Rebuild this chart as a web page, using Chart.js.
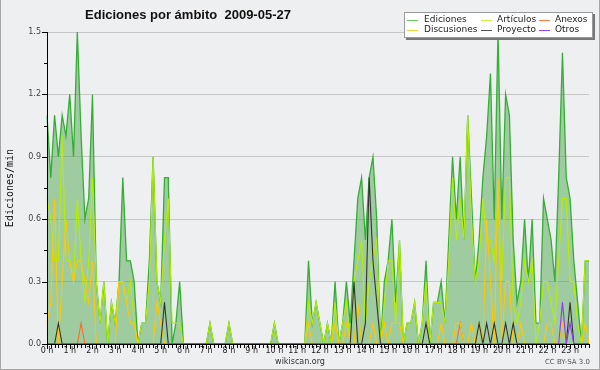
<!DOCTYPE html>
<html lang="es">
<head>
<meta charset="UTF-8">
<title>Ediciones por ámbito 2009-05-27</title>
<script src="https://cdn.jsdelivr.net/npm/chart.js@4"></script>
<style>
  html, body { margin: 0; padding: 0; background: #fff; }
  canvas { display: block; }
</style>
</head>
<body>
<canvas id="grafico" width="600" height="370"></canvas>
<script>
// una muestra cada 10 minutos, 144 por día (ediciones por minuto)
const horas = ['0 h', '1 h', '2 h', '3 h', '4 h', '5 h', '6 h', '7 h', '8 h', '9 h', '10 h', '11 h',
               '12 h', '13 h', '14 h', '15 h', '16 h', '17 h', '18 h', '19 h', '20 h', '21 h', '22 h', '23 h'];

const ediciones = [
  1.1, 0.8, 1.1, 0.9, 1.1, 1.0,
  1.2, 0.9, 1.5, 1.0, 0.6, 0.7,
  1.2, 0.3, 0.1, 0.3, 0.0, 0.2,
  0.1, 0.3, 0.8, 0.4, 0.4, 0.3,
  0.0, 0.1, 0.1, 0.4, 0.9, 0.3,
  0.2, 0.8, 0.8, 0.0, 0.1, 0.3,
  0, 0, 0, 0, 0, 0,
  0, 0.1, 0, 0, 0, 0,
  0.1, 0, 0, 0, 0, 0,
  0, 0, 0, 0, 0, 0,
  0.1, 0, 0, 0, 0, 0,
  0, 0, 0, 0.4, 0.1, 0.2,
  0.1, 0.0, 0.1, 0.0, 0.3, 0.0,
  0.1, 0.3, 0.1, 0.4, 0.7, 0.8,
  0.5, 0.8, 0.9, 0.6, 0.0, 0.3,
  0.4, 0.6, 0.2, 0.5, 0.0, 0.1,
  0.1, 0.2, 0.0, 0.1, 0.4, 0.0,
  0.2, 0.2, 0.3, 0.1, 0.5, 0.9,
  0.6, 0.9, 0.5, 1.1, 0.7, 0.3,
  0.5, 0.8, 1.0, 1.3, 0.6, 1.5,
  0.6, 1.2, 1.1, 0.5, 0.2, 0.3,
  0.6, 0.3, 0.6, 0.1, 0.1, 0.7,
  0.6, 0.5, 0.3, 0.8, 1.4, 0.8,
  0.7, 0.4, 0.2, 0.0, 0.4, 0.4
];

const articulos = [
  0.7, 0.6, 0.4, 0.4, 1.0, 0.4,
  0.4, 0.3, 0.7, 0.4, 0.2, 0.4,
  0.8, 0.3, 0.1, 0.3, 0.0, 0.2,
  0.1, 0.3, 0.3, 0.2, 0.3, 0.1,
  0.0, 0.1, 0.1, 0.3, 0.9, 0.3,
  0.2, 0.5, 0.7, 0.1, 0.1, 0.1,
  0, 0, 0, 0, 0, 0,
  0, 0.1, 0, 0, 0, 0,
  0.1, 0, 0, 0, 0, 0,
  0, 0, 0, 0, 0, 0,
  0.1, 0, 0, 0, 0, 0,
  0, 0, 0, 0.2, 0.1, 0.2,
  0.1, 0.0, 0.1, 0.0, 0.2, 0.0,
  0.1, 0.2, 0.0, 0.3, 0.4, 0.5,
  0.1, 0.3, 0.4, 0.5, 0.0, 0.2,
  0.4, 0.4, 0.1, 0.5, 0.0, 0.1,
  0.1, 0.2, 0.0, 0.1, 0.3, 0.0,
  0.2, 0.2, 0.2, 0.1, 0.4, 0.8,
  0.5, 0.7, 0.5, 1.1, 0.6, 0.3,
  0.4, 0.7, 0.5, 0.5, 0.4, 0.7,
  0.3, 0.8, 0.8, 0.2, 0.1, 0.2,
  0.4, 0.3, 0.4, 0.0, 0.1, 0.3,
  0.3, 0.2, 0.1, 0.4, 0.7, 0.7,
  0.3, 0.3, 0.1, 0.0, 0.4, 0.4
];

const anexos = [
  0, 0, 0, 0, 0, 0,
  0, 0, 0, 0.1, 0, 0,
  0, 0, 0, 0, 0, 0,
  0, 0, 0, 0, 0, 0,
  0, 0, 0, 0, 0, 0,
  0, 0, 0, 0, 0, 0,
  0, 0, 0, 0, 0, 0,
  0, 0, 0, 0, 0, 0,
  0, 0, 0, 0, 0, 0,
  0, 0, 0, 0, 0, 0,
  0, 0, 0, 0, 0, 0,
  0, 0, 0, 0, 0, 0,
  0, 0, 0, 0, 0, 0,
  0, 0, 0, 0, 0, 0,
  0, 0, 0, 0, 0, 0,
  0, 0, 0, 0, 0, 0,
  0, 0, 0, 0, 0, 0,
  0, 0, 0, 0, 0, 0,
  0, 0.1, 0, 0, 0, 0,
  0, 0, 0, 0, 0, 0,
  0, 0, 0, 0, 0, 0,
  0, 0, 0, 0, 0, 0,
  0, 0, 0, 0, 0, 0,
  0, 0, 0, 0, 0, 0
];

const discusiones = [
  0.1, 0.2, 0.7, 0.0, 0.3, 0.6,
  0.4, 0.3, 0.4, 0.4, 0.3, 0.2,
  0.4, 0, 0, 0, 0, 0,
  0, 0.3, 0.3, 0.2, 0.1, 0.1,
  0, 0, 0, 0, 0, 0.2,
  0.1, 0, 0, 0, 0, 0,
  0, 0, 0, 0, 0, 0,
  0, 0, 0, 0, 0, 0,
  0, 0, 0, 0, 0, 0,
  0, 0, 0, 0, 0, 0,
  0, 0, 0, 0, 0, 0,
  0, 0, 0, 0.1, 0, 0,
  0, 0, 0, 0, 0.1, 0,
  0, 0.1, 0, 0, 0.2, 0,
  0, 0, 0.1, 0, 0, 0.1,
  0, 0.1, 0.1, 0.1, 0, 0,
  0, 0, 0, 0, 0, 0,
  0, 0, 0.1, 0, 0, 0,
  0.1, 0.1, 0, 0, 0.1, 0,
  0.1, 0, 0.6, 0.3, 0, 0.8,
  0, 0.3, 0.3, 0, 0, 0.1,
  0, 0, 0, 0, 0, 0,
  0.1, 0.1, 0, 0, 0.1, 0,
  0, 0, 0, 0, 0.1, 0
];

const proyecto = [
  0, 0, 0, 0.1, 0, 0,
  0, 0, 0, 0, 0, 0,
  0, 0, 0, 0, 0, 0,
  0, 0, 0, 0, 0, 0,
  0, 0, 0, 0, 0, 0,
  0, 0.2, 0, 0, 0, 0,
  0, 0, 0, 0, 0, 0,
  0, 0, 0, 0, 0, 0,
  0, 0, 0, 0, 0, 0,
  0, 0, 0, 0, 0, 0,
  0, 0, 0, 0, 0, 0,
  0, 0, 0, 0, 0, 0,
  0, 0, 0, 0, 0, 0,
  0, 0, 0, 0.3, 0, 0,
  0.1, 0.8, 0.4, 0.2, 0, 0,
  0, 0, 0, 0, 0, 0,
  0, 0, 0, 0, 0.1, 0,
  0, 0, 0, 0, 0, 0,
  0, 0, 0, 0, 0, 0,
  0.1, 0, 0.1, 0, 0.1, 0,
  0, 0.1, 0, 0.1, 0, 0,
  0, 0, 0, 0, 0, 0,
  0, 0, 0, 0, 0, 0,
  0.2, 0, 0, 0, 0, 0
];

const otros = [
  0, 0, 0, 0, 0, 0,
  0, 0, 0, 0, 0, 0,
  0, 0, 0, 0, 0, 0,
  0, 0, 0, 0, 0, 0,
  0, 0, 0, 0, 0, 0,
  0, 0, 0, 0, 0, 0,
  0, 0, 0, 0, 0, 0,
  0, 0, 0, 0, 0, 0,
  0, 0, 0, 0, 0, 0,
  0, 0, 0, 0, 0, 0,
  0, 0, 0, 0, 0, 0,
  0, 0, 0, 0, 0, 0,
  0, 0, 0, 0, 0, 0,
  0, 0, 0, 0, 0, 0,
  0, 0, 0, 0, 0, 0,
  0, 0, 0, 0, 0, 0,
  0, 0, 0, 0, 0, 0,
  0, 0, 0, 0, 0, 0,
  0, 0, 0, 0, 0, 0,
  0, 0, 0, 0, 0, 0,
  0, 0, 0, 0, 0, 0,
  0, 0, 0, 0, 0, 0,
  0, 0, 0, 0, 0.2, 0,
  0.1, 0, 0, 0, 0, 0
];

const yTicks = [0, 0.15, 0.3, 0.45, 0.6, 0.75, 0.9, 1.05, 1.2, 1.35, 1.5];
const yEtiquetas = ['0.0', '', '0.3', '', '0.6', '', '0.9', '', '1.2', '', '1.5'];

// etiqueta de hora en cada sexta muestra
const etiquetas = [];
horas.forEach(h => { etiquetas.push(h, '', '', '', '', ''); });

const series = [
  { label: 'Ediciones',   data: ediciones,   color: '#36ad36' },
  { label: 'Artículos',   data: articulos,   color: '#b6ee00' },
  { label: 'Anexos',      data: anexos,      color: '#ff6a2a' },
  { label: 'Discusiones', data: discusiones, color: '#ffc800' },
  { label: 'Proyecto',    data: proyecto,    color: '#333333' },
  { label: 'Otros',       data: otros,       color: '#9933ff' }
];

const leyenda = [
  { label: 'Ediciones',   color: '#66cc66', col: 0, fila: 0 },
  { label: 'Artículos',   color: '#ccf03c', col: 1, fila: 0 },
  { label: 'Anexos',      color: '#ff7a44', col: 2, fila: 0 },
  { label: 'Discusiones', color: '#ffcc33', col: 0, fila: 1 },
  { label: 'Proyecto',    color: '#555555', col: 1, fila: 1 },
  { label: 'Otros',       color: '#9944ff', col: 2, fila: 1 }
];

const marco = {
  id: 'marco',
  beforeDraw(chart) {
    const c = chart.ctx;
    c.save();
    c.fillStyle = '#eeeff1';
    c.fillRect(0, 0, chart.width, chart.height);
    c.strokeStyle = '#a5a5a5';
    c.lineWidth = 1;
    c.beginPath();
    c.moveTo(0.5, 0);
    c.lineTo(0.5, 369.5);
    c.lineTo(599.5, 369.5);
    c.lineTo(599.5, 0);
    c.stroke();
    c.restore();
  },
  afterDraw(chart) {
    const c = chart.ctx;
    const { left, right, top, bottom } = chart.chartArea;
    const xs = chart.scales.x, ys = chart.scales.y;
    c.save();

    // ejes y marcas
    c.strokeStyle = '#000';
    c.lineWidth = 1;
    c.beginPath();
    c.moveTo(left + 0.5, top);
    c.lineTo(left + 0.5, bottom + 0.5);
    c.lineTo(right, bottom + 0.5);
    yTicks.forEach((v, i) => {
      const y = Math.round(ys.getPixelForValue(v)) + 0.5;
      const len = yEtiquetas[i] ? 5 : 3;
      c.moveTo(left - len, y);
      c.lineTo(left, y);
    });
    etiquetas.forEach((e, i) => {
      const x = Math.round(xs.getPixelForValue(i)) + 0.5;
      c.moveTo(x, bottom);
      c.lineTo(x, bottom + (e ? 5 : 4));
    });
    c.stroke();

    // título
    c.fillStyle = '#111';
    c.font = 'bold 13px "Liberation Sans"';
    c.textAlign = 'center';
    c.textBaseline = 'alphabetic';
    c.fillText('Ediciones por ámbito  2009-05-27', 188, 19);

    // leyenda
    c.fillStyle = '#777';
    c.fillRect(406, 38, 189, 2);
    c.fillRect(593, 14, 2, 26);
    c.fillStyle = '#fff';
    c.fillRect(404, 12, 189, 26);
    c.strokeStyle = '#9a9a9a';
    c.strokeRect(404.5, 12.5, 188, 25);
    const colX = [407, 481, 539];
    const textoX = [424, 497, 555];
    const filaY = [19.5, 29.5];
    c.font = '9px "DejaVu Sans"';
    c.textAlign = 'left';
    c.textBaseline = 'middle';
    leyenda.forEach(it => {
      const y = Math.round(filaY[it.fila]) + 0.5;
      c.strokeStyle = it.color;
      c.beginPath();
      c.moveTo(colX[it.col], y);
      c.lineTo(colX[it.col] + 11, y);
      c.stroke();
      c.fillStyle = '#222';
      c.fillText(it.label, textoX[it.col], filaY[it.fila]);
    });

    // título del eje y
    c.save();
    c.translate(10, 188);
    c.rotate(-Math.PI / 2);
    c.font = '10px "DejaVu Sans Mono"';
    c.fillStyle = '#111';
    c.textAlign = 'center';
    c.textBaseline = 'middle';
    c.fillText('Ediciones/min', 0, 0);
    c.restore();

    // pie
    c.font = '8px "DejaVu Sans"';
    c.fillStyle = '#333';
    c.textAlign = 'center';
    c.textBaseline = 'middle';
    c.fillText('wikiscan.org', 300, 361.5);
    c.font = '7px "DejaVu Sans"';
    c.fillStyle = '#555';
    c.textAlign = 'right';
    c.fillText('CC BY-SA 3.0', 590, 362.5);

    c.restore();
  }
};

Chart.defaults.font.family = '"DejaVu Sans"';

new Chart(document.getElementById('grafico'), {
  type: 'line',
  data: {
    labels: etiquetas,
    datasets: series.map((s, i) => ({
      label: s.label,
      data: s.data,
      borderColor: s.color,
      backgroundColor: i === 0 ? 'rgba(60, 160, 60, 0.45)' : s.color,
      fill: i === 0 ? 'origin' : false,
      borderWidth: i === 0 ? 1.3 : 1.1,
      pointRadius: 0,
      tension: 0,
      order: series.length - i
    }))
  },
  options: {
    responsive: false,
    animation: false,
    devicePixelRatio: 1,
    layout: { padding: { top: 32, right: 11, bottom: 0, left: 0 } },
    plugins: {
      legend: { display: false },
      tooltip: { enabled: false }
    },
    scales: {
      x: {
        type: 'category',
        offset: false,
        grid: { display: false, drawTicks: false },
        border: { display: false },
        ticks: {
          autoSkip: false,
          maxRotation: 0,
          padding: 2,
          color: '#222',
          font: { size: 8 }
        },
        afterFit(s) { s.height = 26; }
      },
      y: {
        min: 0,
        max: 1.5,
        afterBuildTicks(s) { s.ticks = yTicks.map(v => ({ value: v })); },
        grid: {
          drawTicks: false,
          color: ctx => (yEtiquetas[ctx.index] ? '#c8c8c8' : 'rgba(0,0,0,0)')
        },
        border: { display: false },
        ticks: {
          padding: 6,
          color: '#444',
          font: { size: 8 },
          callback: (v, i) => yEtiquetas[i]
        },
        afterFit(s) { s.width = 47; }
      }
    }
  },
  plugins: [marco]
});
</script>
</body>
</html>
